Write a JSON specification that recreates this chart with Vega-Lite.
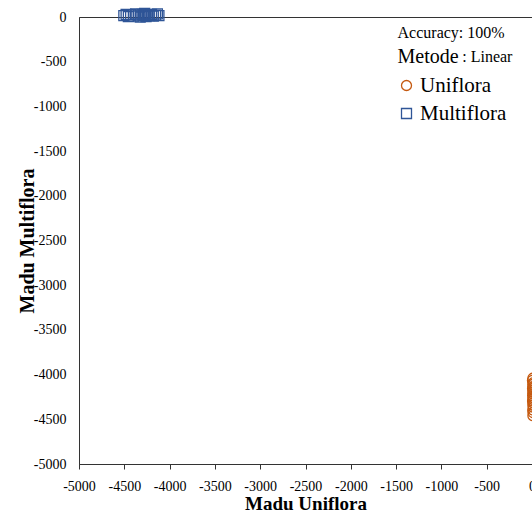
{
  "$schema": "https://vega.github.io/schema/vega-lite/v6.json",
  "autosize": {"type": "none"},
  "width": 453,
  "height": 447,
  "padding": {"left": 79, "top": 17, "right": 0, "bottom": 51},
  "background": "white",
  "config": {
    "view": {"stroke": "#333", "strokeWidth": 1},
    "font": "Liberation Serif",
    "axis": {
      "labelFont": "Liberation Serif",
      "labelFontSize": 14,
      "labelColor": "#000",
      "titleFont": "Liberation Serif",
      "titleFontSize": 20,
      "titleFontWeight": "bold",
      "titleColor": "#000",
      "domainColor": "#333",
      "tickColor": "#333",
      "grid": false,
      "labelOverlap": false,
      "labelFlush": false,
      "labelExpr": "'' + datum.value"
    }
  },
  "datasets": {
    "pts": [
      {"series": "Multiflora", "x": -4505, "y": 15},
      {"series": "Multiflora", "x": -4480, "y": 30},
      {"series": "Multiflora", "x": -4455, "y": 5},
      {"series": "Multiflora", "x": -4430, "y": 25},
      {"series": "Multiflora", "x": -4400, "y": 10},
      {"series": "Multiflora", "x": -4375, "y": 35},
      {"series": "Multiflora", "x": -4345, "y": 20},
      {"series": "Multiflora", "x": -4325, "y": 0},
      {"series": "Multiflora", "x": -4305, "y": 30},
      {"series": "Multiflora", "x": -4290, "y": 15},
      {"series": "Multiflora", "x": -4275, "y": 40},
      {"series": "Multiflora", "x": -4260, "y": 5},
      {"series": "Multiflora", "x": -4245, "y": 25},
      {"series": "Multiflora", "x": -4225, "y": 15},
      {"series": "Multiflora", "x": -4200, "y": 30},
      {"series": "Multiflora", "x": -4180, "y": 10},
      {"series": "Multiflora", "x": -4155, "y": 20},
      {"series": "Multiflora", "x": -4135, "y": 35},
      {"series": "Multiflora", "x": -4118, "y": 15},
      {"series": "Uniflora", "x": 10, "y": -4040},
      {"series": "Uniflora", "x": 5, "y": -4065},
      {"series": "Uniflora", "x": 15, "y": -4090},
      {"series": "Uniflora", "x": 8, "y": -4110},
      {"series": "Uniflora", "x": 12, "y": -4135},
      {"series": "Uniflora", "x": 6, "y": -4155},
      {"series": "Uniflora", "x": 14, "y": -4175},
      {"series": "Uniflora", "x": 9, "y": -4195},
      {"series": "Uniflora", "x": 11, "y": -4215},
      {"series": "Uniflora", "x": 7, "y": -4235},
      {"series": "Uniflora", "x": 13, "y": -4255},
      {"series": "Uniflora", "x": 10, "y": -4275},
      {"series": "Uniflora", "x": 6, "y": -4295},
      {"series": "Uniflora", "x": 12, "y": -4315},
      {"series": "Uniflora", "x": 9, "y": -4340},
      {"series": "Uniflora", "x": 14, "y": -4365},
      {"series": "Uniflora", "x": 8, "y": -4395},
      {"series": "Uniflora", "x": 11, "y": -4425},
      {"series": "Uniflora", "x": 10, "y": -4460}
    ]
  },
  "layer": [
    {
      "data": {"name": "pts"},
      "mark": {"type": "point", "filled": false, "strokeWidth": 1.3, "opacity": 1, "size": 100},
      "encoding": {
        "x": {
          "field": "x", "type": "quantitative",
          "scale": {"domain": [-5000, 0], "nice": false, "zero": false},
          "axis": {
            "title": "Madu Uniflora",
            "values": [-5000, -4500, -4000, -3500, -3000, -2500, -2000, -1500, -1000, -500, 0],
            "tickSize": 5, "labelPadding": 10, "titlePadding": 1, "titleFontSize": 19,
            "encode": {"ticks": {"update": {"y2": {"value": -5}}}}
          }
        },
        "y": {
          "field": "y", "type": "quantitative",
          "scale": {"domain": [-5000, 0], "nice": false, "zero": false},
          "axis": {
            "title": "Madu Multiflora",
            "values": [-5000, -4500, -4000, -3500, -3000, -2500, -2000, -1500, -1000, -500, 0],
            "ticks": false, "labelPadding": 13, "titlePadding": -4
          }
        },
        "color": {
          "field": "series", "type": "nominal",
          "scale": {"domain": ["Uniflora", "Multiflora"], "range": ["#c55a11", "#2f5597"]},
          "legend": {
            "title": null, "orient": "none", "legendX": 317, "legendY": 58,
            "labelFont": "Liberation Serif", "labelFontSize": 21, "labelColor": "#000",
            "symbolSize": 100, "symbolStrokeWidth": 1.3, "rowPadding": 6, "labelOffset": 3
          }
        },
        "shape": {
          "field": "series", "type": "nominal",
          "scale": {"domain": ["Uniflora", "Multiflora"], "range": ["circle", "square"]}
        }
      }
    },
    {
      "data": {"values": [{"label": "Accuracy: 100%"}]},
      "mark": {"type": "text", "align": "left", "baseline": "middle", "fontSize": 16, "font": "Liberation Serif", "color": "#000"},
      "encoding": {"text": {"field": "label"}, "x": {"datum": -1484}, "y": {"datum": -180}}
    },
    {
      "data": {"values": [{"label": "Metode"}]},
      "mark": {"type": "text", "align": "left", "baseline": "middle", "fontSize": 20, "font": "Liberation Serif", "color": "#000"},
      "encoding": {"text": {"field": "label"}, "x": {"datum": -1484}, "y": {"datum": -450}}
    },
    {
      "data": {"values": [{"label": ": Linear"}]},
      "mark": {"type": "text", "align": "left", "baseline": "middle", "fontSize": 16, "font": "Liberation Serif", "color": "#000"},
      "encoding": {"text": {"field": "label"}, "x": {"datum": -770}, "y": {"datum": -450}}
    }
  ]
}
